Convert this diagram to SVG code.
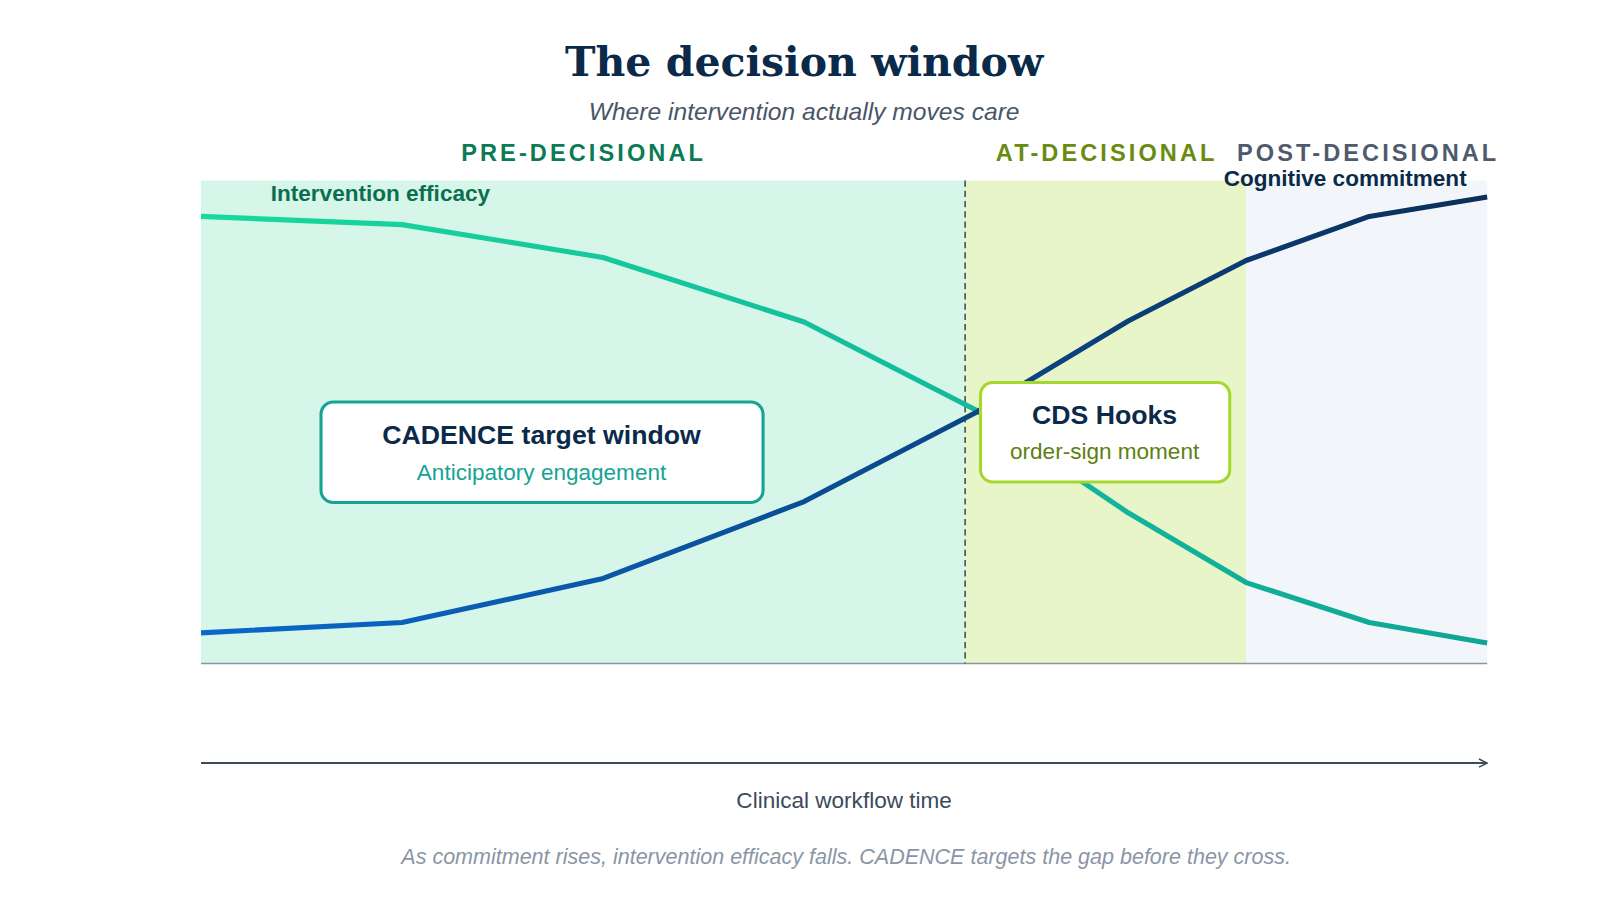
<svg xmlns="http://www.w3.org/2000/svg" width="1600" height="900" viewBox="0 0 1600 900">
<style>
.sans{font-family:"Liberation Sans",Arial,sans-serif}
.zone{font-family:"Liberation Sans",Arial,sans-serif;font-size:23px;font-weight:bold;letter-spacing:3px;text-anchor:middle}
.curve{fill:none;stroke-width:5;stroke-linejoin:round}
</style>
<defs>
<linearGradient id="gEff" gradientUnits="userSpaceOnUse" x1="196" y1="0" x2="1450" y2="0"><stop offset="0" stop-color="#18d99e"/><stop offset="1" stop-color="#0fa598"/></linearGradient>
<linearGradient id="gCom" gradientUnits="userSpaceOnUse" x1="196" y1="0" x2="1450" y2="0"><stop offset="0" stop-color="#0a68cc"/><stop offset="1" stop-color="#0b2f58"/></linearGradient>
<marker id="arr" viewBox="0 0 10 10" refX="9" refY="5" markerWidth="10" markerHeight="10" markerUnits="userSpaceOnUse" orient="auto"><path d="M1,1 L9,5 L1,9" fill="none" stroke="#3d4a5c" stroke-width="1.5"/></marker>
</defs>
<rect width="1600" height="900" fill="#fff"/>
<g transform="scale(1.02564)">
<text x="784" y="74" text-anchor="middle" font-family="'DejaVu Serif','Liberation Serif',serif" font-weight="bold" font-size="40" fill="#0b2a4a">The decision window</text>
<text x="784" y="117" text-anchor="middle" class="sans" font-style="italic" font-size="24" fill="#4a5668">Where intervention actually moves care</text>
<g id="zones">
<rect x="196" y="176" width="744" height="471" fill="#d5f6e9"/>
<rect x="940" y="176" width="275" height="471" fill="#e8f5c9"/>
<rect x="1215" y="176" width="235" height="471" fill="#f2f6fa"/>
<line x1="196" y1="647" x2="1450" y2="647" stroke="#8a96a6" stroke-width="1.5"/>
<line x1="941" y1="176" x2="941" y2="647" stroke="#3d4a5c" stroke-width="1.5" stroke-dasharray="6,4"/>
<text x="569" y="157" class="zone" fill="#0b7a55">PRE-DECISIONAL</text>
<text x="1079" y="157" class="zone" fill="#6a8a10">AT-DECISIONAL</text>
<text x="1334" y="157" class="zone" fill="#4f5a6c">POST-DECISIONAL</text>
</g>
<g id="connectors">
<polyline class="curve" stroke="url(#gEff)" points="196,211 392,219 588,251 784,314 952,400 1100,500 1215,568 1335,607 1450,627"/>
<polyline class="curve" stroke="url(#gCom)" points="196,617 392,607 588,564 784,489 952,402 1100,313 1215,254 1335,211 1450,192"/>
<line x1="196" y1="744" x2="1450" y2="744" stroke="#3d4a5c" stroke-width="2" marker-end="url(#arr)"/>
</g>
<text x="264" y="196" class="sans" font-weight="bold" font-size="22" fill="#0b6e50">Intervention efficacy</text>
<text x="1430" y="181" text-anchor="end" class="sans" font-weight="bold" font-size="22" fill="#0b2a4a">Cognitive commitment</text>
<g id="cadence">
<rect x="313" y="392" width="431" height="98" rx="12" fill="#fff" stroke="#14a394" stroke-width="3"/>
<text x="528" y="433" text-anchor="middle" class="sans" font-weight="bold" font-size="26" fill="#0b2a4a">CADENCE target window</text>
<text x="528" y="468" text-anchor="middle" class="sans" font-size="22" fill="#14a394">Anticipatory engagement</text>
</g>
<g id="cds">
<rect x="956" y="373" width="243" height="97" rx="12" fill="#fff" stroke="#a5d82e" stroke-width="3"/>
<text x="1077" y="413" text-anchor="middle" class="sans" font-weight="bold" font-size="26" fill="#0b2a4a">CDS Hooks</text>
<text x="1077" y="448" text-anchor="middle" class="sans" font-size="22" fill="#5e7f12">order-sign moment</text>
</g>
<text x="823" y="788" text-anchor="middle" class="sans" font-size="22" fill="#3d4a5c">Clinical workflow time</text>
<text x="825" y="842" text-anchor="middle" class="sans" font-style="italic" font-size="21" fill="#8a96a6">As commitment rises, intervention efficacy falls. CADENCE targets the gap before they cross.</text>
</g>
</svg>
